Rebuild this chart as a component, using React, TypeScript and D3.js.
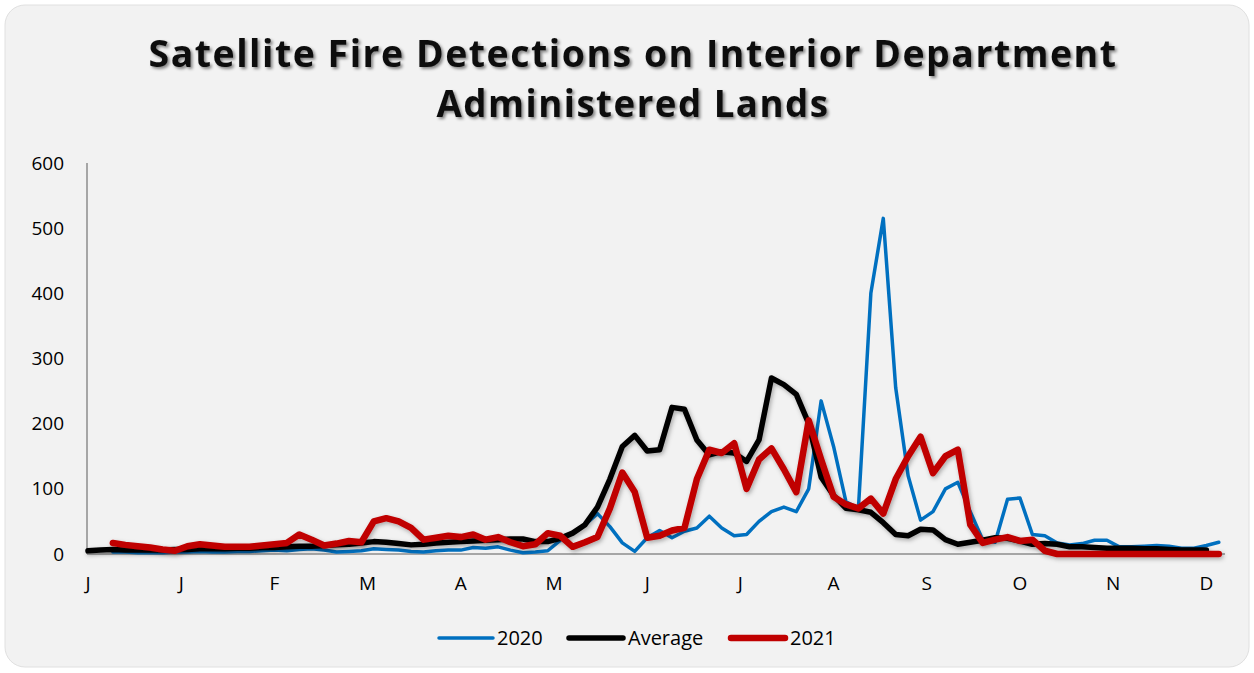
import { useEffect } from 'react';
import * as d3 from 'd3';

// one value every 4 days, starting Jan 1
const days = d3.range(0, 365, 4);

const fires2020 = [
  null, null, 3, 3, 2, 2, 2, 3, 3, 4, 3, 3, 4, 4, 5, 6, 5, 7, 8, 6,
  3, 4, 5, 8, 7, 6, 4, 3, 5, 6, 6, 10, 9, 11, 6, 2, 3, 5, 21, 32,
  45, 62, 42, 17, 4, 25, 36, 25, 35, 40, 58, 40, 28, 30, 50, 65, 72, 65, 100, 235,
  165, 80, 70, 400, 515, 255, 120, 52, 65, 100, 110, 65, 22, 18, 84, 86, 30, 28, 17, 14,
  16, 21, 21, 11, 11, 12, 13, 12, 9, 9, 13, 18
];

const firesAverage = [
  5, 6, 7, 6, 6, 6, 6, 7, 7, 8, 8, 8, 9, 9, 10, 10, 11, 12, 12, 13,
  14, 15, 17, 19, 18, 16, 14, 15, 17, 18, 19, 20, 21, 22, 23, 23, 19, 19, 24, 32,
  45, 72, 115, 165, 182, 158, 160, 225, 222, 175, 152, 157, 155, 142, 175, 270, 260, 245, 200, 118,
  90, 70, 68, 64, 48, 30, 28, 38, 37, 22, 15, 18, 21, 25, 24, 20, 15, 16, 15, 11,
  11, 10, 9, 9, 9, 8, 8, 7, 6, 6, 6, null
];

const fires2021 = [
  null, null, 17, 14, 12, 10, 7, 5, 12, 15, 13, 11, 11, 11, 13, 15, 17, 30, 22, 13,
  16, 20, 18, 50, 55, 50, 40, 22, 25, 28, 26, 30, 22, 26, 18, 12, 15, 32, 28, 11,
  18, 26, 70, 125, 95, 25, 28, 36, 40, 115, 160, 155, 170, 100, 145, 162, 130, 95, 205, 145,
  88, 76, 70, 85, 62, 115, 150, 180, 124, 150, 160, 45, 17, 22, 26, 20, 22, 5, 0, 0,
  0, 0, 0, 0, 0, 0, 0, 0, 0, 0, 0, 0
];

const monthLabels = ['J', 'J', 'F', 'M', 'A', 'M', 'J', 'J', 'A', 'S', 'O', 'N', 'D'];
const yTicks = [0, 100, 200, 300, 400, 500, 600];

const series = [
  { name: '2020', values: fires2020, color: '#0070c0', width: 3.5 },
  { name: 'Average', values: firesAverage, color: '#000000', width: 5.5 },
  { name: '2021', values: fires2021, color: '#c00000', width: 6.5 }
];

export default function App() {
  useEffect(() => {
    document.body.style.margin = '0';
  }, []);

  const width = 1254;
  const height = 673;

  const x = d3.scaleLinear().domain([0, 366]).range([88, 1225]);
  const y = d3.scaleLinear().domain([0, 600]).range([554, 163]);

  const line = d3.line<number | null>()
    .defined(d => d !== null)
    .x((_, i) => x(days[i]))
    .y(d => y(d as number));

  const font = "'Open Sans', 'DejaVu Sans', sans-serif";

  // legend layout
  const legend = [
    { s: series[0], lx: 439, tx: 497 },
    { s: series[1], lx: 569, tx: 628 },
    { s: series[2], lx: 731, tx: 790 }
  ];

  return (
    <svg width={width} height={height} style={{ display: 'block', background: '#fff' }}>
      <defs>
        <filter id="titleShadow" x="-5%" y="-20%" width="110%" height="150%">
          <feDropShadow dx="2" dy="2" stdDeviation="1.5" floodColor="#000" floodOpacity="0.45" />
        </filter>
        <filter id="lineShadow" x="-5%" y="-20%" width="110%" height="140%">
          <feDropShadow dx="1.5" dy="2" stdDeviation="2" floodColor="#000" floodOpacity="0.3" />
        </filter>
      </defs>

      <rect x={5} y={5} width={1244} height={662} rx={20} fill="#f2f2f2" stroke="#e0e0e0" />

      <g fontFamily={font} fontWeight={700} fill="#111" textAnchor="middle" filter="url(#titleShadow)">
        <text x={633} y={67} fontSize={37} letterSpacing={1.5} textLength={969} lengthAdjust="spacingAndGlyphs">
          Satellite Fire Detections on Interior Department
        </text>
        <text x={633} y={117} fontSize={37} letterSpacing={1.5} textLength={393} lengthAdjust="spacingAndGlyphs">
          Administered Lands
        </text>
      </g>

      {/* axes */}
      <line x1={87} x2={87} y1={163} y2={554} stroke="#8c8c8c" strokeWidth={1.5} />
      <line x1={87} x2={1225} y1={554} y2={554} stroke="#8c8c8c" strokeWidth={1.5} />

      <g fontFamily={font} fontSize={19} fill="#000">
        {yTicks.map(t => (
          <text key={t} x={64} y={y(t)} dy="0.35em" textAnchor="end">{t}</text>
        ))}
        {monthLabels.map((m, i) => (
          <text key={i} x={x(i * 30)} y={590} textAnchor="middle">{m}</text>
        ))}
      </g>

      {/* series */}
      <g fill="none" strokeLinejoin="round" strokeLinecap="round">
        {series.map(s => (
          <path
            key={s.name}
            d={line(s.values) ?? ''}
            stroke={s.color}
            strokeWidth={s.width}
            filter={s.name === '2020' ? undefined : 'url(#lineShadow)'}
          />
        ))}
      </g>

      {/* legend */}
      <g fontFamily={font} fontSize={20} fill="#000">
        {legend.map(l => (
          <g key={l.s.name}>
            <line
              x1={l.lx}
              x2={l.lx + 54}
              y1={638}
              y2={638}
              stroke={l.s.color}
              strokeWidth={l.s.width}
              strokeLinecap="round"
            />
            <text x={l.tx} y={638} dy="0.35em">{l.s.name}</text>
          </g>
        ))}
      </g>
    </svg>
  );
}
